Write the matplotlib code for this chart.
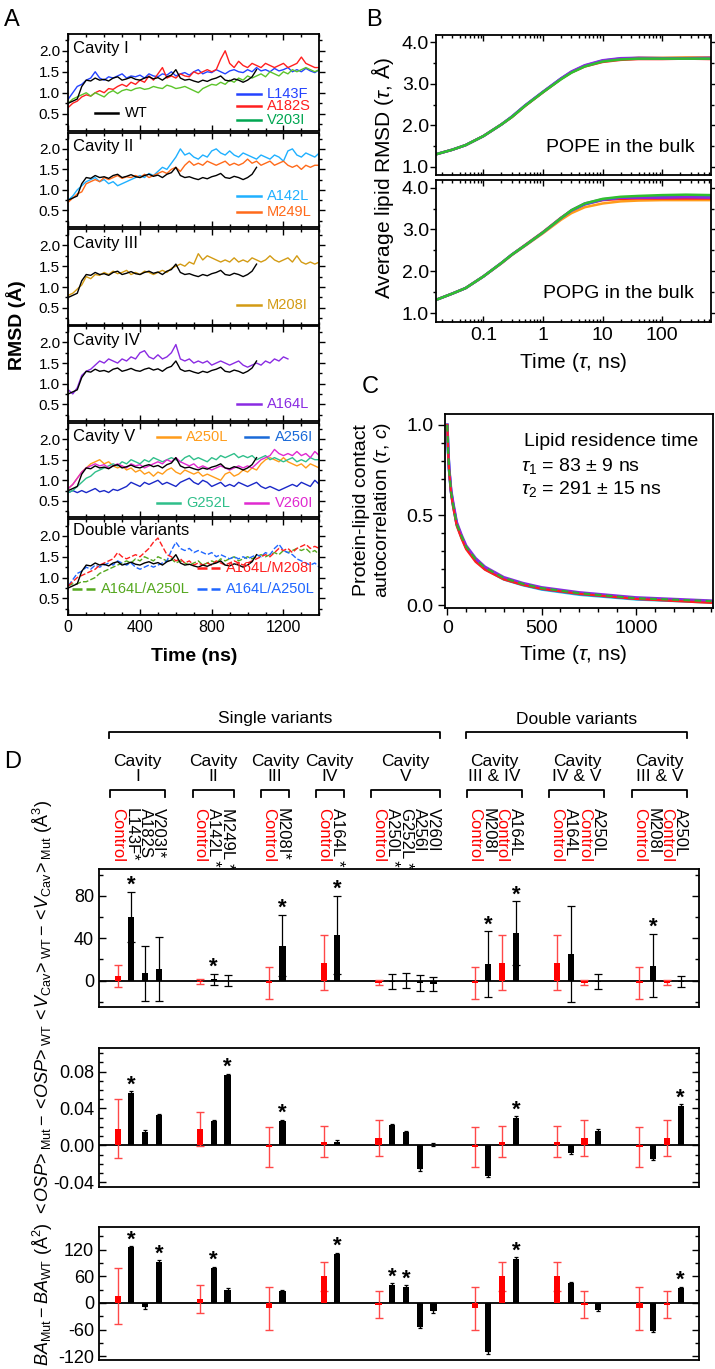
import numpy as np
import matplotlib
matplotlib.use('Agg')
from matplotlib import pyplot as plt
from matplotlib.ticker import MultipleLocator, LogLocator, NullFormatter

plt.rcParams['font.family'] = ['Liberation Sans', 'DejaVu Sans']
plt.rcParams['mathtext.fontset'] = 'custom'
plt.rcParams['mathtext.rm'] = 'Liberation Sans'
plt.rcParams['mathtext.it'] = 'Liberation Sans:italic'
plt.rcParams['mathtext.bf'] = 'Liberation Sans:bold'
plt.rcParams['axes.linewidth'] = 1.3

# ---------------- Panel A: backbone RMSD, sampled every 25 ns ----------------
t_a = np.arange(0, 1401, 25)

rmsd_wt = [0.75, 0.80, 0.85, 1.15, 1.30, 1.28, 1.35, 1.30, 1.32, 1.28,
           1.35, 1.38, 1.30, 1.33, 1.37, 1.32, 1.30, 1.35, 1.38, 1.33,
           1.36, 1.30, 1.38, 1.42, 1.55, 1.35, 1.30, 1.32, 1.28, 1.25,
           1.30, 1.27, 1.32, 1.35, 1.40, 1.30, 1.28, 1.33, 1.30, 1.25,
           1.30, 1.38, 1.55]
rmsd_l143f = [0.85, 1.00, 1.15, 1.20, 1.30, 1.35, 1.50, 1.35, 1.30, 1.38,
              1.35, 1.40, 1.45, 1.35, 1.40, 1.38, 1.42, 1.35, 1.45, 1.40,
              1.38, 1.45, 1.42, 1.50, 1.40, 1.45, 1.48, 1.42, 1.50, 1.55,
              1.45, 1.50, 1.48, 1.55, 1.50, 1.45, 1.52, 1.55, 1.50, 1.48,
              1.55, 1.50, 1.60, 1.52, 1.55, 1.50, 1.58, 1.52, 1.55, 1.60,
              1.50, 1.55, 1.50, 1.58, 1.52, 1.48, 1.55]
rmsd_a182s = [0.65, 0.75, 0.80, 0.90, 0.95, 0.92, 1.00, 1.05, 1.00, 1.10,
              1.08, 1.15, 1.20, 1.15, 1.25, 1.20, 1.30, 1.25, 1.40, 1.30,
              1.45, 1.60, 1.35, 1.40, 1.35, 1.45, 1.40, 1.38, 1.50, 1.45,
              1.50, 1.55, 1.50, 1.55, 1.80, 2.00, 1.70, 1.60, 1.75, 1.65,
              1.60, 1.70, 1.65, 1.60, 1.70, 1.65, 1.60, 1.65, 1.70, 1.60,
              1.65, 1.70, 1.85, 1.70, 1.65, 1.60, 1.60]
rmsd_v203i = [0.75, 0.85, 0.90, 0.95, 1.00, 0.92, 1.00, 0.95, 0.90, 1.00,
              1.05, 0.98, 1.05, 1.08, 1.05, 1.10, 1.12, 1.08, 1.10, 1.15,
              1.12, 1.10, 1.18, 1.15, 1.10, 1.12, 1.15, 1.10, 1.05, 1.00,
              1.10, 1.15, 1.20, 1.18, 1.25, 1.20, 1.30, 1.25, 1.35, 1.30,
              1.40, 1.35, 1.40, 1.45, 1.38, 1.50, 1.45, 1.40, 1.50, 1.45,
              1.55, 1.50, 1.55, 1.60, 1.55, 1.50, 1.55]
rmsd_a142l = [0.75, 0.85, 1.00, 1.10, 1.20, 1.25, 1.30, 1.20, 1.25, 1.15,
              1.20, 1.10, 1.15, 1.20, 1.25, 1.30, 1.35, 1.30, 1.40, 1.35,
              1.45, 1.55, 1.50, 1.65, 1.80, 2.00, 1.85, 1.90, 1.80, 1.75,
              1.85, 1.80, 1.95, 2.00, 1.90, 1.85, 1.95, 1.85, 1.80, 1.90,
              1.85, 1.80, 1.75, 1.85, 1.80, 1.75, 1.85, 1.80, 1.70, 1.95,
              2.00, 1.85, 1.80, 1.90, 1.85, 1.80, 1.90]
rmsd_m249l = [0.70, 0.80, 0.90, 0.95, 1.15, 1.20, 1.25, 1.20, 1.30, 1.25,
              1.30, 1.35, 1.28, 1.32, 1.30, 1.35, 1.30, 1.38, 1.30, 1.35,
              1.40, 1.45, 1.40, 1.50, 1.55, 1.45, 1.60, 1.70, 1.60, 1.65,
              1.60, 1.70, 1.65, 1.60, 1.65, 1.70, 1.60, 1.65, 1.60, 1.65,
              1.75, 1.65, 1.70, 1.60, 1.65, 1.70, 1.60, 1.65, 1.70, 1.60,
              1.55, 1.60, 1.50, 1.60, 1.55, 1.60, 1.60]
rmsd_m208i = [0.80, 0.85, 0.95, 1.05, 1.25, 1.20, 1.30, 1.28, 1.35, 1.30,
              1.38, 1.32, 1.35, 1.40, 1.30, 1.35, 1.30, 1.38, 1.35, 1.30,
              1.35, 1.40, 1.35, 1.45, 1.50, 1.55, 1.50, 1.60, 1.55, 1.80,
              1.65, 1.75, 1.70, 1.65, 1.60, 1.65, 1.60, 1.70, 1.60, 1.65,
              1.60, 1.70, 1.65, 1.60, 1.65, 1.75, 1.65, 1.60, 1.65, 1.70,
              1.60, 1.75, 1.60, 1.55, 1.60, 1.55, 1.60]
rmsd_a164l = [0.85, 0.75, 0.90, 1.20, 1.30, 1.35, 1.45, 1.55, 1.50, 1.60,
              1.55, 1.50, 1.60, 1.55, 1.65, 1.60, 1.75, 1.80, 1.65, 1.60,
              1.70, 1.60, 1.65, 1.75, 1.95, 1.60, 1.55, 1.60, 1.50, 1.55,
              1.50, 1.55, 1.45, 1.50, 1.55, 1.50, 1.45, 1.50, 1.55, 1.45,
              1.40, 1.45, 1.50, 1.45, 1.55, 1.50, 1.60, 1.55, 1.65, 1.60]
rmsd_a250l = [0.80, 0.90, 1.05, 1.20, 1.30, 1.40, 1.45, 1.50, 1.40, 1.45,
              1.35, 1.30, 1.35, 1.25, 1.30, 1.20, 1.25, 1.15, 1.20, 1.10,
              1.20, 1.15, 1.25, 1.30, 1.20, 1.15, 1.25, 1.20, 1.15, 1.20,
              1.10, 1.15, 1.10, 1.05, 1.00, 1.15, 1.20, 1.10, 1.15, 1.25,
              1.20, 1.30, 1.25, 1.40, 1.50, 1.55, 1.50, 1.45, 1.55, 1.45,
              1.40, 1.35, 1.40, 1.30, 1.40, 1.35, 1.30]
rmsd_a256i = [0.70, 0.75, 0.70, 0.75, 0.70, 0.75, 0.80, 0.72, 0.75, 0.70,
              0.78, 0.75, 0.80, 0.85, 0.95, 0.90, 0.85, 0.95, 0.90, 0.95,
              1.00, 0.90, 0.95, 0.90, 0.85, 0.95, 1.00, 1.05, 0.95, 0.90,
              1.00, 0.95, 0.85, 0.90, 0.95, 0.85, 0.90, 0.85, 0.95, 0.90,
              0.85, 0.90, 0.95, 0.85, 0.80, 0.85, 0.80, 0.75, 0.80, 0.85,
              0.90, 0.85, 0.95, 0.90, 0.85, 1.00, 0.90]
rmsd_g252l = [0.70, 0.75, 0.85, 0.95, 1.05, 1.10, 1.20, 1.25, 1.30, 1.35,
              1.40, 1.35, 1.45, 1.40, 1.50, 1.45, 1.40, 1.50, 1.45, 1.55,
              1.50, 1.45, 1.50, 1.55, 1.50, 1.45, 1.55, 1.60, 1.50, 1.55,
              1.50, 1.45, 1.55, 1.50, 1.60, 1.55, 1.60, 1.65, 1.55, 1.60,
              1.55, 1.60, 1.50, 1.55, 1.60, 1.50, 1.55, 1.50, 1.45, 1.50,
              1.55, 1.45, 1.50, 1.45, 1.55, 1.50, 1.50]
rmsd_v260i = [0.80, 0.90, 1.05, 1.20, 1.30, 1.35, 1.40, 1.35, 1.38, 1.30,
              1.35, 1.40, 1.35, 1.30, 1.40, 1.35, 1.38, 1.30, 1.35, 1.40,
              1.45, 1.40, 1.50, 1.45, 1.55, 1.45, 1.40, 1.35, 1.40, 1.30,
              1.35, 1.30, 1.25, 1.30, 1.35, 1.30, 1.25, 1.30, 1.35, 1.30,
              1.35, 1.30, 1.40, 1.50, 1.55, 1.60, 1.75, 1.65, 1.60, 1.65,
              1.60, 1.70, 1.60, 1.65, 1.55, 1.70, 1.60]
rmsd_a164l_m208i = [0.80, 0.90, 1.00, 1.05, 1.10, 1.15, 1.20, 1.30, 1.35, 1.40,
                    1.45, 1.60, 1.50, 1.45, 1.50, 1.55, 1.50, 1.60, 1.70, 1.85,
                    1.95, 1.75, 1.55, 1.50, 1.40, 1.45, 1.35, 1.40, 1.30, 1.35,
                    1.30, 1.35, 1.30, 1.40, 1.35, 1.30, 1.35, 1.40, 1.35, 1.30,
                    1.35, 1.40, 1.45, 1.50, 1.55, 1.50, 1.60, 1.70, 1.65, 1.70,
                    1.60, 1.70, 1.75, 1.80, 1.70, 1.75, 1.70]
rmsd_a164l_a250l_g = [0.80, 0.85, 0.85, 0.90, 0.90, 0.95, 1.00, 1.10, 1.15, 1.20,
                      1.25, 1.30, 1.35, 1.40, 1.35, 1.45, 1.40, 1.50, 1.45, 1.40,
                      1.50, 1.45, 1.40, 1.45, 1.35, 1.40, 1.35, 1.30, 1.35, 1.40,
                      1.30, 1.35, 1.40, 1.35, 1.45, 1.40, 1.45, 1.50, 1.40, 1.45,
                      1.50, 1.45, 1.50, 1.55, 1.50, 1.55, 1.60, 1.55, 1.65, 1.60,
                      1.65, 1.70, 1.65, 1.70, 1.60, 1.65, 1.55]
rmsd_a164l_a250l_b = [0.80, 0.95, 1.10, 1.15, 1.25, 1.20, 1.30, 1.25, 1.30, 1.35,
                      1.30, 1.40, 1.35, 1.30, 1.35, 1.25, 1.20, 1.25, 1.30, 1.25,
                      1.30, 1.35, 1.40, 1.65, 1.85, 1.70, 1.65, 1.70, 1.60, 1.65,
                      1.60, 1.55, 1.60, 1.50, 1.55, 1.50, 1.45, 1.50, 1.45, 1.50,
                      1.45, 1.50, 1.55, 1.50, 1.60, 1.55, 1.70, 1.80, 1.65, 1.60,
                      1.55, 1.45, 1.40, 1.35, 1.30, 1.35, 1.25]

# ---------------- Panel B: lipid RMSD in the bulk ----------------
t_b = [0.016, 0.03, 0.05, 0.1, 0.2, 0.3, 0.5, 1, 2, 3, 5, 10, 20, 40, 100, 250, 650]
pope_red = [1.30, 1.41, 1.52, 1.74, 2.02, 2.20, 2.47, 2.80, 3.12, 3.28, 3.42, 3.53, 3.58, 3.60, 3.60, 3.61, 3.60]
pope_orange = [1.30, 1.41, 1.52, 1.74, 2.02, 2.20, 2.47, 2.80, 3.12, 3.28, 3.43, 3.55, 3.60, 3.63, 3.63, 3.64, 3.64]
pope_blue = [1.30, 1.41, 1.52, 1.74, 2.02, 2.21, 2.48, 2.81, 3.13, 3.29, 3.44, 3.56, 3.61, 3.62, 3.62, 3.62, 3.62]
pope_purple = [1.30, 1.41, 1.52, 1.74, 2.02, 2.21, 2.48, 2.81, 3.13, 3.30, 3.45, 3.57, 3.62, 3.63, 3.62, 3.62, 3.63]
pope_green = [1.30, 1.41, 1.52, 1.74, 2.02, 2.20, 2.47, 2.80, 3.11, 3.27, 3.42, 3.54, 3.59, 3.61, 3.61, 3.61, 3.61]
popg_orange = [1.32, 1.47, 1.60, 1.88, 2.19, 2.39, 2.61, 2.91, 3.23, 3.39, 3.53, 3.62, 3.67, 3.69, 3.70, 3.70, 3.70]
popg_red = [1.32, 1.47, 1.60, 1.88, 2.20, 2.40, 2.63, 2.94, 3.28, 3.45, 3.60, 3.70, 3.73, 3.74, 3.74, 3.74, 3.74]
popg_blue = [1.32, 1.47, 1.60, 1.88, 2.20, 2.40, 2.62, 2.93, 3.27, 3.45, 3.60, 3.71, 3.76, 3.77, 3.78, 3.78, 3.78]
popg_purple = [1.32, 1.47, 1.60, 1.88, 2.20, 2.40, 2.62, 2.93, 3.27, 3.46, 3.62, 3.72, 3.76, 3.76, 3.76, 3.77, 3.76]
popg_green = [1.32, 1.47, 1.60, 1.88, 2.20, 2.40, 2.62, 2.93, 3.27, 3.46, 3.62, 3.73, 3.78, 3.80, 3.82, 3.83, 3.82]

# ---------------- Panel C: contact autocorrelation ----------------
t_c = [0, 5, 10, 20, 30, 50, 75, 100, 150, 200, 300, 400, 500, 700, 1000, 1400]
acf_red = [1.00, 0.84, 0.74, 0.62, 0.55, 0.44, 0.37, 0.31, 0.24, 0.196, 0.142, 0.112, 0.090, 0.062, 0.034, 0.012]
acf_blue = [1.00, 0.85, 0.75, 0.63, 0.565, 0.45, 0.38, 0.32, 0.25, 0.203, 0.146, 0.114, 0.090, 0.062, 0.035, 0.018]
acf_cyan = [1.00, 0.85, 0.75, 0.63, 0.56, 0.45, 0.38, 0.32, 0.25, 0.200, 0.143, 0.111, 0.087, 0.058, 0.032, 0.015]
acf_purple = [1.00, 0.86, 0.76, 0.64, 0.575, 0.46, 0.39, 0.33, 0.26, 0.212, 0.154, 0.122, 0.098, 0.070, 0.042, 0.024]
acf_green = [1.00, 0.85, 0.75, 0.63, 0.565, 0.45, 0.385, 0.325, 0.255, 0.208, 0.150, 0.118, 0.094, 0.066, 0.038, 0.022]

# ---------------- Panel D: bar data ----------------
bar_labels = ['Control', 'L143F*', 'A182S', 'V203I*',
              'Control', 'A142L *', 'M249L *',
              'Control', 'M208I*',
              'Control', 'A164L *',
              'Control', 'A250L *', 'G252L *', 'A256I', 'V260I',
              'Control', 'M208I', 'Control', 'A164L',
              'Control', 'A164L', 'Control', 'A250L',
              'Control', 'M208I', 'Control', 'A250L']
bar_x = [0, 1, 2, 3, 6, 7, 8, 11, 12, 15, 16, 19, 20, 21, 22, 23,
         26, 27, 28, 29, 32, 33, 34, 35, 38, 39, 40, 41]
cavity_names = ['Cavity\nI', 'Cavity\nII', 'Cavity\nIII', 'Cavity\nIV', 'Cavity\nV',
                'Cavity\nIII & IV', 'Cavity\nIV & V', 'Cavity\nIII & V']
cavity_sizes = [4, 3, 2, 2, 5, 4, 4, 4]
variant_classes = [('Single variants', 0, 4), ('Double variants', 5, 7)]

vcav_val = [4, 60, 7, 11, -1, 1, 0, -2, 33, 17, 43, -2, -1, 0, -2, -3,
            -2, 15.5, 17, 45, 17, 25, -2, -1, -2, 14, -2, -1]
vcav_err = [10.5, 24, 26, 30, 2.5, 5.3, 5, 15, 29, 26, 37, 2.7, 6.8, 7, 7.5, 6.6,
            15, 31, 26, 30, 26, 45, 2.5, 7, 15, 30, 2.5, 5]
vcav_star = [1, 5, 8, 10, 17, 19, 25]

osp_val = [0.018, 0.057, 0.015, 0.033, 0.0175, 0.026, 0.076, -0.002, 0.026, 0.004, 0.004,
           0.008, 0.022, 0.014, -0.026, 0.0005, -0.002, -0.033, 0.004, 0.030,
           0.004, -0.008, 0.008, 0.016, -0.002, -0.015, 0.008, 0.043]
osp_err = [0.032, 0.0015, 0.0015, 0.0015, 0.0185, 0.0015, 0.0015, 0.022, 0.0015, 0.017, 0.0015,
           0.020, 0.0015, 0.0015, 0.0015, 0.0015, 0.022, 0.0015, 0.017, 0.0015,
           0.017, 0.0015, 0.020, 0.0015, 0.022, 0.0015, 0.020, 0.0015]
osp_star = [1, 6, 8, 19, 27]

ba_val = [15, 125, -10, 93, 9, 79, 30, -12, 26, 60, 110, -4, 41, 37, -54, -19,
          -12, -111, 60, 100, 60, 44, -4, -15, -12, -63, -4, 34]
ba_err = [63, 3, 3, 3, 32, 3, 3, 48, 3, 33, 3, 31, 3, 3, 3, 3,
          48, 3, 33, 3, 33, 3, 31, 3, 48, 3, 31, 3]
ba_star = [1, 3, 5, 10, 12, 13, 19, 27]

# ---------------- figure ----------------
W, H = 715, 1369
fig = plt.figure(figsize=(W / 100, H / 100), dpi=100)


def px_axes(left, top, right, bottom):
    return fig.add_axes([left / W, 1 - bottom / H, (right - left) / W, (bottom - top) / H])


def ftext(x, y, s, **kw):
    return fig.text(x / W, 1 - y / H, s, **kw)


# ---- Panel A ----
c_l143f, c_a182s, c_v203i = '#2443ff', '#ff1f1f', '#5cc42a'
c_a142l, c_m249l, c_m208i = '#1fb0ff', '#ff6a1a', '#d39b14'
c_a164l, c_a250l, c_a256i = '#8a2be2', '#ff9c1a', '#1a28c8'
c_g252l, c_v260i = '#2fbf8a', '#e02ad0'
c_dm, c_dg, c_db = '#ff1f1f', '#55a81f', '#1f66ff'
dash = (0, (4, 1.6))

a_rows = [
    ('Cavity I', [(rmsd_l143f, c_l143f, '-'), (rmsd_a182s, c_a182s, '-'), (rmsd_v203i, c_v203i, '-')],
     [('WT', 'black', '-', 0.106, 0.18), ('L143F', c_l143f, '-', 0.673, 0.38),
      ('A182S', c_a182s, '-', 0.673, 0.25), ('V203I', '#00a651', '-', 0.673, 0.11)]),
    ('Cavity II', [(rmsd_a142l, c_a142l, '-'), (rmsd_m249l, c_m249l, '-')],
     [('A142L', c_a142l, '-', 0.673, 0.33), ('M249L', c_m249l, '-', 0.673, 0.16)]),
    ('Cavity III', [(rmsd_m208i, c_m208i, '-')],
     [('M208I', c_m208i, '-', 0.673, 0.20)]),
    ('Cavity IV', [(rmsd_a164l, c_a164l, '-')],
     [('A164L', c_a164l, '-', 0.673, 0.18)]),
    ('Cavity V', [(rmsd_a250l, c_a250l, '-'), (rmsd_a256i, c_a256i, '-'),
                  (rmsd_g252l, c_g252l, '-'), (rmsd_v260i, c_v260i, '-')],
     [('A250L', c_a250l, '-', 0.352, 0.85), ('A256I', '#1a6ad8', '-', 0.704, 0.85),
      ('G252L', c_g252l, '-', 0.352, 0.15), ('V260I', c_v260i, '-', 0.704, 0.15)]),
    ('Double variants', [(rmsd_a164l_a250l_g, c_dg, dash), (rmsd_a164l_a250l_b, c_db, dash),
                         (rmsd_a164l_m208i, c_dm, dash)],
     [('A164L/M208I', c_dm, dash, 0.511, 0.49), ('A164L/A250L', c_dg, dash, 0.013, 0.27),
      ('A164L/A250L', c_db, dash, 0.511, 0.27)]),
]
a_tops = [34, 132.5, 228.7, 326, 422.7, 519.3]
a_bots = [130.5, 226.7, 324.5, 420.7, 517.3, 615]

for i, (title, series, keys) in enumerate(a_rows):
    ax = px_axes(68.3, a_tops[i], 319.3, a_bots[i])
    for vals, col, ls in series:
        ax.plot(t_a[:len(vals)], vals, color=col, lw=1.0, ls=ls)
    ax.plot(t_a[:len(rmsd_wt)], rmsd_wt, color='black', lw=1.0)
    ax.set_xlim(0, 1400)
    ax.set_ylim(0.1, 2.4)
    ax.set_yticks([0.5, 1.0, 1.5, 2.0], ['0.5', '1.0', '1.5', '2.0'])
    ax.yaxis.set_minor_locator(MultipleLocator(0.25))
    ax.set_xticks([0, 400, 800, 1200])
    ax.xaxis.set_minor_locator(MultipleLocator(100))
    ax.tick_params(axis='y', which='both', direction='out', left=True, right=True, labelsize=11, pad=2)
    ax.tick_params(axis='x', which='both', direction='in', top=True, bottom=True, labelsize=11.5)
    ax.tick_params(which='major', length=4, width=1)
    ax.tick_params(which='minor', length=2.5, width=1)
    if i < 5:
        ax.set_xticklabels([])
    ax.text(0.018, 0.99 - (0.14 if i != 5 else 0.105), title, transform=ax.transAxes,
            fontsize=12, va='center', ha='left')
    for lab, col, ls, x0, y0 in keys:
        ax.plot([x0, x0 + 0.093], [y0, y0], color=col, lw=1.8, ls=ls, transform=ax.transAxes)
        ax.text(x0 + 0.118, y0, lab, color=col, fontsize=10.5, va='center', ha='left',
                transform=ax.transAxes)

ftext(16, 325, 'RMSD (Å)', rotation=90, fontsize=14, fontweight='bold', ha='center', va='center')
ftext(194, 657, 'Time (ns)', fontsize=14, fontweight='bold', ha='center', va='center')

# ---- Panel B ----
b_sets = [
    ('POPE in the bulk', [(pope_orange, '#ff9c1a'), (pope_red, '#ff1f1f'), (pope_blue, '#1f66ff'),
                          (pope_purple, '#8a2be2'), (pope_green, '#2fc02f')], 35, 175),
    ('POPG in the bulk', [(popg_orange, '#ff9c1a'), (popg_red, '#ff1f1f'), (popg_blue, '#1f66ff'),
                          (popg_purple, '#8a2be2'), (popg_green, '#2fc02f')], 180, 321.7),
]
for j, (name, curves, top, bot) in enumerate(b_sets):
    ax = px_axes(436, top, 710.7, bot)
    for vals, col in curves:
        ax.plot(t_b, vals, color=col, lw=1.8)
    ax.set_xscale('log')
    ax.set_xlim(0.016, 650)
    ax.set_ylim(0.8, 4.18)
    ax.set_yticks([1, 2, 3, 4], ['1.0', '2.0', '3.0', '4.0'])
    ax.yaxis.set_minor_locator(MultipleLocator(0.5))
    ax.set_xticks([0.1, 1, 10, 100])
    ax.xaxis.set_minor_locator(LogLocator(base=10, subs=np.arange(2, 10)))
    ax.xaxis.set_minor_formatter(NullFormatter())
    if j == 0:
        ax.set_xticklabels([])
    else:
        ax.set_xticklabels(['0.1', '1', '10', '100'])
    ax.tick_params(axis='y', which='both', direction='out', left=True, right=True, labelsize=14, pad=1)
    ax.tick_params(axis='x', which='both', direction='in', top=True, bottom=True, labelsize=14)
    ax.tick_params(which='major', length=4, width=1)
    ax.tick_params(which='minor', length=2.5, width=1)
    ax.text(0.94, 0.2, name, transform=ax.transAxes, fontsize=14, ha='right', va='center')

ftext(382, 178, r'Average lipid RMSD ($\tau$, Å)', rotation=90, fontsize=15, ha='center', va='center')
ftext(573, 362, r'Time ($\tau$, ns)', fontsize=15, ha='center', va='center')

# ---- Panel C ----
ax = px_axes(445, 414, 712.7, 608.3)
ax.plot(t_c, acf_cyan, color='#20d0e0', lw=2)
ax.plot(t_c, acf_blue, color='#1f55ff', lw=2)
ax.plot(t_c, acf_purple, color='#8a2be2', lw=2)
ax.plot(t_c, acf_red, color='#ff1f1f', lw=1.6)
ax.plot(t_c, acf_green, color='#2fb02f', lw=1.6, ls=(0, (3, 2)))
ax.set_xlim(-12, 1407)
ax.set_ylim(-0.018, 1.061)
ax.set_xticks([0, 500, 1000])
ax.set_yticks([0, 0.5, 1.0], ['0.0', '0.5', '1.0'])
ax.xaxis.set_minor_locator(MultipleLocator(100))
ax.yaxis.set_minor_locator(MultipleLocator(0.1))
ax.tick_params(which='both', direction='out', labelsize=14)
ax.tick_params(which='major', length=5, width=1)
ax.tick_params(which='minor', length=3, width=1)
ax.text(0.295, 0.86, 'Lipid residence time', transform=ax.transAxes, fontsize=14, va='center')
ax.text(0.285, 0.73, r'$\tau_1$ = 83 ± 9 ns', transform=ax.transAxes, fontsize=14, va='center')
ax.text(0.285, 0.615, r'$\tau_2$ = 291 ± 15 ns', transform=ax.transAxes, fontsize=14, va='center')
ftext(373, 510, 'Protein-lipid contact\nautocorrelation ($\\tau$, $c$)', rotation=90, fontsize=14,
      ha='center', va='center', linespacing=1.1)
ftext(573, 654, r'Time ($\tau$, ns)', fontsize=15, ha='center', va='center')

# ---- Panel D ----
d_left, d_right = 99, 699
d_xlim = (-1.36, 42.34)

hdr = px_axes(d_left, 690, d_right, 866)
hdr.set_xlim(d_xlim)
hdr.set_ylim(866, 690)
hdr.axis('off')

starts = np.cumsum([0] + cavity_sizes[:-1])
for name, s, n in zip(cavity_names, starts, cavity_sizes):
    x0, x1 = bar_x[s] - 0.55, bar_x[s + n - 1] + 0.45
    hdr.plot([x0, x0, x1, x1], [797, 790, 790, 797], color='black', lw=1.3, clip_on=False)
    hdr.text((x0 + x1) / 2, 769, name, ha='center', va='center', fontsize=12.5, linespacing=1.0)
for name, g0, g1 in variant_classes:
    x0 = bar_x[starts[g0]] - 0.6
    x1 = bar_x[starts[g1] + cavity_sizes[g1] - 1] + 0.5
    hdr.plot([x0, x0, x1, x1], [738, 731.5, 731.5, 738], color='black', lw=1.3, clip_on=False)
    hdr.text((x0 + x1) / 2, 719, name, ha='center', va='center', fontsize=12.5)
for xb, lab in zip(bar_x, bar_labels):
    hdr.text(xb, 808, lab, rotation=270, ha='center', va='top', fontsize=12,
             color='#ff0000' if lab == 'Control' else 'black')

d_rows = [
    (vcav_val, vcav_err, vcav_star, 869.3, 1007, (-25, 105), [0, 40, 80], ['0', '40', '80'], 20,
     r'$<\!V_{\rm Cav}\!>_{\rm WT} - <\!V_{\rm Cav}\!>_{\rm Mut}$ (Å$^3$)', 911, 3.2),
    (osp_val, osp_err, osp_star, 1048.3, 1187, (-0.0453, 0.1054), [-0.04, 0, 0.04, 0.08],
     ['-0.04', '0.00', '0.04', '0.08'], 0.01,
     r'$<\!OSP\!>_{\rm Mut} - <\!OSP\!>_{\rm WT}$', 1120, 1.5),
    (ba_val, ba_err, ba_star, 1227, 1360, (-128.5, 171), [-120, -60, 0, 60, 120],
     ['-120', '-60', '0', '60', '120'], 30,
     r'$BA_{\rm Mut} - BA_{\rm WT}$ (Å$^2$)', 1294, 1.5),
]
xb = np.array(bar_x)
ctrl = np.array([lab == 'Control' for lab in bar_labels])
for vals, errs, stars, top, bot, ylim, ticks, tlabels, minor, ylab, ylab_y, bcap in d_rows:
    ax = px_axes(d_left, top, d_right, bot)
    v = np.array(vals)
    e = np.array(errs)
    ax.axhline(0, color='black', lw=1.3, zorder=1)
    ax.errorbar(xb[ctrl], v[ctrl], yerr=e[ctrl], fmt='none', ecolor='#ff4848',
                elinewidth=1, capsize=3.2, capthick=1, zorder=1.5)
    ax.bar(xb[ctrl], v[ctrl], width=0.45, color='#ff0000', zorder=2)
    ax.bar(xb[~ctrl], v[~ctrl], width=0.45, color='black', zorder=2)
    ax.errorbar(xb[~ctrl], v[~ctrl], yerr=e[~ctrl], fmt='none', ecolor='black',
                elinewidth=0.9, capsize=bcap, capthick=0.9, zorder=3)
    for k in stars:
        ax.annotate('*', (xb[k], v[k] + e[k]), xytext=(0, -3), textcoords='offset points',
                    ha='center', va='bottom', fontsize=16, fontweight='bold')
    ax.set_xlim(d_xlim)
    ax.set_ylim(ylim)
    ax.set_xticks([])
    ax.set_yticks(ticks, tlabels)
    ax.yaxis.set_minor_locator(MultipleLocator(minor))
    ax.tick_params(axis='y', which='both', direction='in', left=True, right=True, labelsize=13)
    ax.tick_params(which='major', length=5, width=1)
    ax.tick_params(which='minor', length=3, width=1)
    ftext(43, ylab_y, ylab, rotation=90, fontsize=13, ha='center', va='center')

# panel letters
ftext(4, 20, 'A', fontsize=17, va='center')
ftext(366, 20, 'B', fontsize=17, va='center')
ftext(362, 387, 'C', fontsize=17, va='center')
ftext(4, 762, 'D', fontsize=17, va='center')

fig.savefig('out.png', dpi=100)
